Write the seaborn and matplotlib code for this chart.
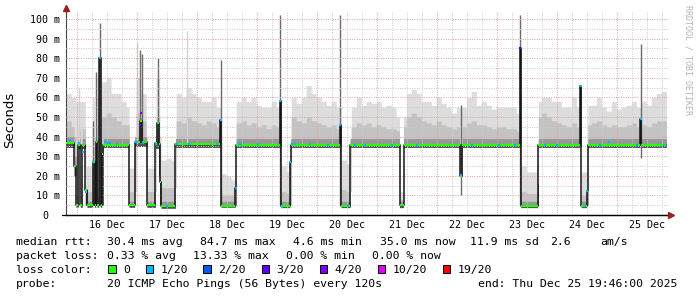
import numpy as np
import pandas as pd
import matplotlib
matplotlib.use("Agg")
import matplotlib.pyplot as plt
import matplotlib.transforms as mtransforms
from matplotlib.patches import Rectangle
from matplotlib.lines import Line2D
import seaborn as sns

# ---------------- data (hours counted from Dec 15 19:46) ----------------
END_H = 240.0

# median rtt step segments: start hour and median value (ms)
med_t = [0.0, 3.2, 4.0, 4.8, 5.7, 6.4, 7.7, 8.4, 10.6, 11.4, 11.8, 12.4, 13.0, 13.8,
         14.2, 14.9, 25.2, 27.4, 29.4, 30.4, 32.3, 35.7, 36.4, 37.0, 37.4, 38.0,
         43.7, 61.6, 62.0, 67.6, 68.0, 85.4, 86.0, 89.4, 89.8, 109.4, 110.0, 113.5,
         133.3, 134.9, 157.3, 158.4, 181.3, 181.8, 188.5, 188.8, 205.4, 206.0, 208.1,
         208.6, 229.4, 230.0]
med_v = [36.5, 25, 5, 35.7, 5, 35.7, 13, 5, 27, 5, 37, 5, 80, 5, 31, 35.8, 5, 37, 48,
         37, 5, 36.5, 47, 36, 17, 4.5, 36, 48.5, 4.6, 14, 35.7, 58, 4.5, 27, 35.7, 46,
         4.5, 35.7, 5, 35.7, 20, 35.7, 85, 4.5, 16, 35.5, 66, 4.5, 12, 35.5, 49, 35.5]
# per segment smoke limits (ms): light-smoke cap, mid-smoke cap, dark-smoke top, smoke bottom
seg_cap = [200, 60, 58, 200, 58, 200, 30, 25, 60, 40, 73, 60, 200, 60, 200, 200, 24,
           200, 200, 200, 24, 200, 200, 200, 40, 29, 200, 200, 21, 21, 200, 200, 25, 30,
           200, 200, 28, 200, 12, 200, 56, 200, 200, 25, 25, 200, 200, 22, 22, 200, 200, 200]
seg_mid = [200, 40, 30, 200, 25, 200, 15, 12, 35, 15, 200, 20, 200, 20, 200, 200, 12,
           200, 200, 200, 12, 200, 200, 200, 20, 14, 200, 200, 10, 14, 200, 200, 12, 27,
           200, 200, 13, 200, 8, 200, 35, 200, 200, 12, 16, 200, 200, 10, 12, 200, 200, 200]
seg_dark = [40, 30, 10, 39, 10, 39, 13, 7, 28, 8, 39, 10, 80, 10, 36, 39, 7, 40, 50, 40,
            7, 39, 47, 38, 17, 7, 39, 48.5, 7, 14, 39, 58, 7, 27, 39, 46, 7, 39,
            7, 39, 35.7, 39, 85, 7, 16, 39, 66, 7, 12, 39, 49, 39]
seg_lo = [34.5, 20, 4, 34, 4, 34, 5, 4, 5, 4, 5, 4, 5, 4, 5, 34.5, 4, 35, 35, 35, 4, 34,
          34, 20, 5, 3.5, 34.5, 34, 4, 5, 34.5, 35, 3.8, 5, 34.5, 35, 3.8, 34.5, 3.8, 34.5,
          20, 34.5, 35, 3.8, 5, 34.5, 35, 3.8, 5, 34.5, 35, 34.5]

# smoke tops per 2-hour bin (ms)
smoke_hi = [62, 60, 58, 58, 25, 72, 70, 68, 70, 62, 62, 58, 55, 24, 70, 62, 24, 24, 70, 28,
            29, 28, 62, 60, 65, 62, 60, 58, 58, 60, 55, 21, 20, 18, 58, 60, 58, 60, 56, 55,
            55, 58, 55, 25, 22, 60, 57, 60, 66, 62, 60, 58, 56, 58, 55, 28, 26, 55, 60, 56,
            58, 57, 58, 55, 56, 55, 50, 50, 62, 64, 62, 58, 58, 56, 60, 57, 55, 52, 55, 55,
            60, 63, 56, 58, 56, 54, 55, 55, 55, 55, 52, 25, 22, 22, 58, 60, 60, 58, 58, 55,
            55, 60, 55, 22, 56, 56, 60, 55, 53, 58, 54, 55, 56, 58, 55, 58, 56, 60, 62, 63]
smoke_mid = [48, 45, 44, 44, 12, 45, 45, 50, 52, 50, 48, 46, 46, 12, 52, 48, 12, 12, 50, 14,
             15, 14, 48, 47, 50, 48, 47, 46, 48, 47, 45, 11, 10, 10, 47, 48, 46, 47, 45, 46,
             44, 46, 45, 12, 11, 50, 48, 47, 50, 48, 47, 46, 45, 46, 44, 13, 12, 45, 47, 46,
             47, 45, 46, 45, 44, 44, 43, 45, 50, 52, 50, 48, 47, 46, 48, 46, 45, 44, 45, 45,
             47, 48, 46, 46, 45, 44, 45, 45, 44, 44, 43, 12, 11, 11, 50, 52, 50, 48, 47, 46,
             45, 47, 45, 10, 46, 47, 48, 46, 45, 46, 45, 45, 46, 47, 45, 46, 45, 47, 48, 48]

# single-sample max/min excursions (thin grey lines)
spike_h = [13.4, 29.6, 30.2, 36.6, 61.8, 85.7, 109.7, 157.8, 181.55, 229.7, 12.0, 10.8]
spike_top = [98, 84, 82, 80, 79, 102, 102, 56, 102, 87, 73, 48]
spike_bot = [4.5, 36, 36, 36, 5, 5, 5, 10, 5, 29, 5, 5]
light_h = [28.2, 48.4, 5.2]
light_top = [88, 94, 65]

# loss colour markers on the median line
loss1_h = [1.7, 5.3, 6.6, 8.0, 10.9, 13.4, 15.7, 16.8, 17.7, 20.4, 27.4, 28.5, 30.9, 36.1,
           40.5, 44.4, 49.0, 60.2, 61.8, 67.8, 69.0, 70.0, 76.9, 85.7, 86.5, 89.6, 90.5,
           91.6, 97.6, 104.9, 109.7, 112.9, 115.6, 119.6, 130.2, 140.2, 157.8, 162.2, 172.9,
           179.6, 191.6, 196.2, 205.7, 207.6, 208.35, 213.6, 216.9, 228.2, 229.7, 238.9]
loss1_v = [38.3, 36.6, 32.3, 11.9, 27.2, 80, 37.4, 36.6, 36.9, 36.2, 37.4, 37.4, 36.6, 36,
           4.4, 36, 36, 36, 48.5, 14, 36, 36, 36, 58, 4, 27, 36, 36, 36, 35.7, 46, 4.5, 35.7,
           35.7, 35.7, 35.7, 20.5, 35.7, 35.7, 35.5, 35.5, 35.5, 66, 4.5, 12, 35.5, 37, 35.5,
           49, 35.5]
loss3_h = [29.7, 181.55]
loss3_v = [45.7, 85]
loss4_h = [30.1]
loss4_v = [51.8]

day_labels = ["16 Dec", "17 Dec", "18 Dec", "19 Dec", "20 Dec",
              "21 Dec", "22 Dec", "23 Dec", "24 Dec", "25 Dec"]
first_midnight_h = 4.233
y_ticks = [0, 10, 20, 30, 40, 50, 60, 70, 80, 90, 100]

loss_labels = ["0", "1/20", "2/20", "3/20", "4/20", "10/20", "19/20"]
loss_colors = ["#22ff00", "#00b8ff", "#0059ff", "#5e00ff", "#7e00ff", "#dd00ff", "#ff0000"]

# ---------------- figure ----------------
sns.set_theme(style="white")
plt.rcParams["font.family"] = ["DejaVu Sans Mono", "DejaVu Sans"]

W, H = 697, 297
fig = plt.figure(figsize=(W / 100, H / 100), dpi=100)
fig.patch.set_facecolor("white")


def fx(px):
    return px / W


def fy(py):
    return 1 - py / H


X0, X1 = 66.1, 666.4
Y0, Y100 = 215.0, 19.0
pxh = (X1 - X0) / END_H
pxm = (Y0 - Y100) / 100
XMAX, YMAX = 241.0, 103.6
ax = fig.add_axes([fx(X0), fy(Y0), XMAX * pxh / W, YMAX * pxm / H])
ax.set_facecolor("white")

# per-column smoke layers
t = np.arange(0, END_H, 0.1)
seg = np.searchsorted(np.array(med_t), t + 1e-6, side="right") - 1
b = np.minimum((t // 2).astype(int), len(smoke_hi) - 1)
light = np.minimum(np.take(smoke_hi, b), np.take(seg_cap, seg))
mid = np.minimum(np.take(smoke_mid, b), np.take(seg_mid, seg))
mid = np.minimum(mid, light)
dark = np.take(seg_dark, seg)
lo = np.take(seg_lo, seg)
med = np.take(med_v, seg)

te = np.append(t, END_H)


def ext(a):
    return np.append(a, a[-1])


for top, col in [(light, "#dddddd"), (mid, "#c3c3c3"), (dark, "#979797"), (med, "#505050")]:
    ax.fill_between(te, ext(lo), ext(top), step="post", color=col, lw=0, zorder=1)

ax.vlines(light_h, 36, light_top, color="#d2d2d2", lw=1, zorder=1.5)
ax.vlines(spike_h, spike_bot, spike_top, color="#6a6a6a", lw=1, zorder=2)

# median line (black joins) + loss colour
med_df = pd.DataFrame({"h": list(med_t) + [END_H], "ms": list(med_v) + [med_v[-1]]})
sns.lineplot(data=med_df, x="h", y="ms", drawstyle="steps-post", color="#151515",
             lw=1.1, ax=ax, zorder=4, legend=False)
ax.hlines(med_v, med_t, list(med_t[1:]) + [END_H], colors=loss_colors[0], lw=1.5, zorder=5)
ax.hlines(loss1_v, np.array(loss1_h) - 0.4, np.array(loss1_h) + 0.4, colors=loss_colors[1], lw=1.6, zorder=6)
ax.hlines(loss3_v, np.array(loss3_h) - 0.4, np.array(loss3_h) + 0.4, colors=loss_colors[3], lw=1.6, zorder=6)
ax.hlines(loss4_v, np.array(loss4_h) - 0.4, np.array(loss4_h) + 0.4, colors=loss_colors[4], lw=1.6, zorder=6)

# grid / ticks
midnights = [first_midnight_h + 24 * k for k in range(10)]
sixes = [first_midnight_h + 6 * k for k in range(40) if k % 4 and first_midnight_h + 6 * k < XMAX]
ax.set_xlim(0, XMAX)
ax.set_ylim(0, YMAX)
ax.set_xticks(midnights)
ax.set_xticks(sixes, minor=True)
ax.set_yticks(y_ticks)
ax.set_yticks([v + 5 for v in y_ticks[:-1]], minor=True)
ax.set_xticklabels([])
ax.set_yticklabels([])
ax.set_xlabel("")
ax.set_ylabel("")
ax.set_axisbelow(False)
RED, GREY = "#e6a2a2", "#cdcdcd"
ax.grid(which="major", color=RED, ls=(0, (1, 1.4)), lw=0.72)
ax.grid(which="minor", color=GREY, ls=(0, (1, 1.4)), lw=0.72)
ax.tick_params(which="major", length=1.6, width=0.72, color=RED, direction="out", pad=0)
ax.tick_params(which="minor", length=1.6, width=0.72, color=GREY, direction="out", pad=0)
for s in ["top", "right"]:
    ax.spines[s].set_visible(False)
ax.spines["left"].set_color("#444444")
ax.spines["left"].set_linewidth(0.8)
ax.spines["bottom"].set_color("black")
ax.spines["bottom"].set_linewidth(0.9)

# tick labels
ty = mtransforms.blended_transform_factory(fig.transFigure, ax.transData)
for v in y_ticks:
    lab = f"{v} m" if v else "0"
    ax.text(fx(60 if v else 48), v, lab, transform=ty, ha="right", va="center_baseline",
            fontsize=7.2, family="DejaVu Sans Mono", color="black")
tx = mtransforms.blended_transform_factory(ax.transData, fig.transFigure)
for k, lab in enumerate(day_labels):
    ax.text(first_midnight_h + 12 + 24 * k, fy(228.3), lab, transform=tx, ha="center",
            va="baseline", fontsize=7.2, family="DejaVu Sans Mono", color="black")

# axis extensions and arrows
AR = "#a01c1c"
fig.add_artist(Line2D([fx(X0), fx(X0)], [fy(12.5), fy(8)], color="#444444", lw=0.8))
fig.add_artist(Line2D([fx(X0)], [fy(8)], marker="^", ms=4.5, color=AR, lw=0))
fig.add_artist(Line2D([fx(62), fx(670)], [fy(Y0), fy(Y0)], color="black", lw=0.9))
fig.add_artist(Line2D([fx(671)], [fy(Y0)], marker=">", ms=4.5, color=AR, lw=0))

# titles
fig.text(fx(10), fy(120), "Seconds", rotation=90, ha="center", va="center",
         fontsize=9.6, family="DejaVu Sans", color="black")
fig.text(fx(688), fy(60), "RRDTOOL / TOBI OETIKER", rotation=270, ha="center", va="center",
         fontsize=6, family="DejaVu Sans Mono", color="#b4b4b4")

# legend text
FS = 8.25
rows = [
    (245.3, [(16, "median rtt:"), (107.3, "30.4 ms avg"), (200, "84.7 ms max"),
             (292.7, "4.6 ms min"), (379.5, "35.0 ms now"), (470, "11.9 ms sd"),
             (550.5, "2.6"), (600.3, "am/s")]),
    (259.3, [(16, "packet loss:"), (107.3, "0.33 % avg"), (192.7, "13.33 % max"),
             (286, "0.00 % min"), (372, "0.00 % now")]),
    (273.3, [(16, "loss color:")]),
    (287.3, [(16, "probe:"), (107.3, "20 ICMP Echo Pings (56 Bytes) every 120s"),
             (478, "end: Thu Dec 25 19:46:00 2025")]),
]
for yb, items in rows:
    for xp, s in items:
        fig.text(fx(xp), fy(yb), s, ha="left", va="baseline", fontsize=FS,
                 family="DejaVu Sans Mono", color="black")

sq_x = [108.3, 146, 203.3, 261.7, 320, 377.7, 443]
lab_x = [123.3, 160.7, 218.3, 276.7, 334.3, 392.7, 458]
for sx, lx, c, s in zip(sq_x, lab_x, loss_colors, loss_labels):
    fig.add_artist(Rectangle((fx(sx), fy(273.3)), 7.4 / W, 8.2 / H, transform=fig.transFigure,
                             facecolor=c, edgecolor="black", lw=0.7))
    fig.text(fx(lx), fy(273.3), s, ha="left", va="baseline", fontsize=FS,
             family="DejaVu Sans Mono", color="black")

fig.savefig("out.png", dpi=100, facecolor="white")
